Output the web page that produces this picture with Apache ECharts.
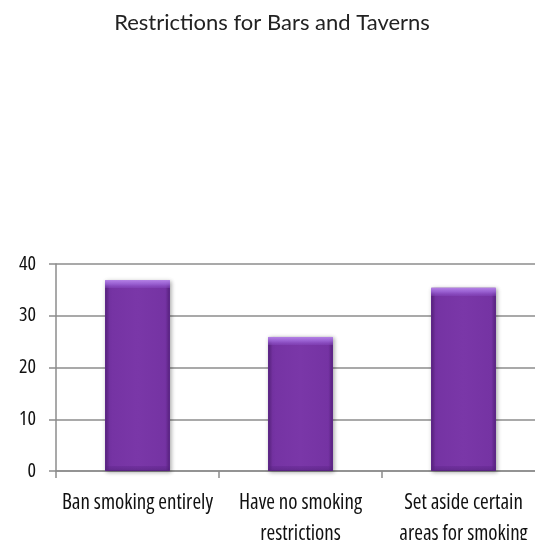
<!DOCTYPE html>
<html>
<head>
<meta charset="utf-8">
<script src="https://cdn.jsdelivr.net/npm/echarts@6/dist/echarts.min.js"></script>
<style>html,body{margin:0;padding:0;background:#fff;}#c{width:535px;height:540px;}</style>
</head>
<body>
<div id="c"></div>
<script>
const titleText = 'Restrictions for Bars and Taverns';
const categories = ['Ban smoking entirely', 'Have no smoking\nrestrictions', 'Set aside certain\nareas for smoking'];
const values = [36.9, 25.9, 35.4];
const yTicks = { min: 0, max: 40, interval: 10 };

const gridHeight = 207;
const chart = echarts.init(document.getElementById('c'), null, { renderer: 'canvas' });
const labelFont = '"Open Sans", sans-serif';

// bevel overlay: fixed pixel-size top/bottom bands, expressed as fractions of each bar
const bevel = values.map(v => {
  const h = v / yTicks.max * gridHeight;
  const t = 8 / h, b = 5 / h;
  return {
    value: v,
    itemStyle: {
      color: new echarts.graphic.LinearGradient(0, 0, 0, 1, [
        { offset: 0, color: 'rgba(185,135,235,0.95)' },
        { offset: t * 0.5, color: 'rgba(165,110,225,0.75)' },
        { offset: t, color: 'rgba(140,80,200,0.35)' },
        { offset: t + 0.001, color: 'rgba(122,54,167,0)' },
        { offset: 1 - b, color: 'rgba(90,35,135,0)' },
        { offset: 1 - b + 0.001, color: 'rgba(90,35,135,0.3)' },
        { offset: 1, color: 'rgba(80,30,120,0.45)' }
      ])
    }
  };
});

chart.setOption({
  animation: false,
  backgroundColor: '#fff',
  title: {
    text: titleText,
    left: 267, top: 7, textAlign: 'center',
    textStyle: { fontFamily: 'Lato, "Open Sans", sans-serif', fontWeight: 'normal', fontSize: 22, color: '#222' }
  },
  grid: { left: 56, top: 264, width: 489, height: gridHeight, containLabel: false, outerBoundsMode: 'none' },
  xAxis: {
    type: 'category', data: categories,
    axisLine: { lineStyle: { color: '#8c8c8c', width: 1.5 } },
    axisTick: { show: true, length: 7, lineStyle: { color: '#8c8c8c', width: 1.5 } },
    axisLabel: { fontFamily: labelFont, fontWeight: 'condensed', fontSize: 21, color: '#111', lineHeight: 31, margin: 17, interval: 0 }
  },
  yAxis: {
    type: 'value', min: yTicks.min, max: yTicks.max, interval: yTicks.interval,
    axisLine: { show: true, lineStyle: { color: '#8c8c8c', width: 1.5 } },
    axisTick: { show: true, length: 7, lineStyle: { color: '#8c8c8c', width: 1.5 } },
    splitLine: { lineStyle: { color: '#8c8c8c', width: 1.5 } },
    axisLabel: { fontFamily: labelFont, fontWeight: 'condensed', fontSize: 20, color: '#111', margin: 20 }
  },
  series: [{
    type: 'bar', data: values, barWidth: 65,
    itemStyle: {
      color: new echarts.graphic.LinearGradient(0, 0, 1, 0, [
        { offset: 0, color: '#5a2382' },
        { offset: 0.07, color: '#7533a3' },
        { offset: 0.5, color: '#7a37a8' },
        { offset: 0.93, color: '#7533a3' },
        { offset: 1, color: '#5a2382' }
      ]),
      borderColor: '#5e2788', borderWidth: 1,
      shadowColor: 'rgba(0,0,0,0.3)', shadowBlur: 4, shadowOffsetX: 1, shadowOffsetY: 1
    }
  }, {
    type: 'bar', data: bevel, barWidth: 65, barGap: '-100%', silent: true, z: 3
  }]
});
</script>
</body>
</html>
